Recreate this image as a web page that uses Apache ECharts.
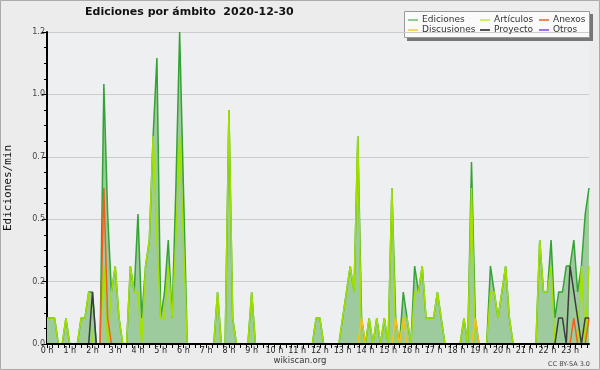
<!DOCTYPE html>
<html><head><meta charset="utf-8">
<script src="https://cdn.jsdelivr.net/npm/echarts@6/dist/echarts.min.js"></script>
<style>html,body{margin:0;padding:0;background:#ececec}#c{width:600px;height:370px}</style>
</head><body><div id="c"></div>
<script>
// 10-minute slots, 6 per hour, values in edits/min
const hourLabels = ['0 h','1 h','2 h','3 h','4 h','5 h','6 h','7 h','8 h','9 h','10 h','11 h','12 h','13 h','14 h','15 h','16 h','17 h','18 h','19 h','20 h','21 h','22 h','23 h'];
const yTicks = [0, 0.24, 0.48, 0.72, 0.96, 1.2];
const ediciones = [
  .1,.1,.1,0,0,.1,   0,0,0,.1,.1,.2,   .2,0,0,1.0,.5,.2,   .3,.1,0,0,.3,.2,
  .5,.1,.3,.4,.8,1.1, .1,.2,.4,.1,.6,1.2, .6,0,0,0,0,0,  0,0,0,.2,0,0,
  .9,.1,0,0,0,0,     .2,0,0,0,0,0,     0,0,0,0,0,0,      0,0,0,0,0,.1,
  .1,0,0,0,0,0,      .1,.2,.3,.2,.8,.1, 0,.1,0,.1,0,.1,   0,.6,.1,0,.2,.1,
  0,.3,.2,.3,.1,.1,  .1,.2,.1,0,0,0,   0,0,.1,0,.7,.1,   0,0,0,.3,.2,.1,
  .2,.3,.1,0,0,0,    0,0,0,0,.4,.2,    .2,.4,.1,.2,.2,.3, .3,.4,.2,.3,.5,.6
];
const articulos = [
  .1,.1,.1,0,0,.1,   0,0,0,.1,.1,.2,   0,0,0,.3,0,.2,    .3,.1,0,0,.3,.2,
  .2,0,.3,.4,.8,.4,  .1,.1,.3,.1,.4,.8, .4,0,0,0,0,0,    0,0,0,.2,0,0,
  .9,.1,0,0,0,0,     .2,0,0,0,0,0,     0,0,0,0,0,0,      0,0,0,0,0,.1,
  .1,0,0,0,0,0,      .1,.2,.3,.2,.8,0, 0,.1,0,.1,0,.1,   0,.6,0,0,.1,.1,
  0,.2,.2,.3,.1,.1,  .1,.2,.1,0,0,0,   0,0,.1,0,.6,0,    0,0,0,.2,.2,.1,
  .2,.3,.1,0,0,0,    0,0,0,0,.4,.2,    .2,.3,0,0,0,0,    0,0,0,.3,0,.3
];
const anexos = [
  0,0,0,0,0,0, 0,0,0,0,0,0, 0,0,0,.6,.1,0, 0,0,0,0,0,0,
  0,0,0,0,0,0, 0,0,0,0,0,0, 0,0,0,0,0,0, 0,0,0,0,0,0,
  0,0,0,0,0,0, 0,0,0,0,0,0, 0,0,0,0,0,0, 0,0,0,0,0,0,
  0,0,0,0,0,0, 0,0,0,0,0,0, 0,0,0,0,0,0, 0,0,0,0,0,0,
  0,0,0,0,0,0, 0,0,0,0,0,0, 0,0,0,0,0,0, 0,0,0,0,0,0,
  0,0,0,0,0,0, 0,0,0,0,0,0, 0,0,0,0,0,0, 0,.1,0,0,0,.1
];
const discusiones = [
  0,0,0,0,0,0, 0,0,0,0,0,0, 0,0,0,0,0,0, 0,0,0,0,0,0,
  0,0,0,0,0,0, 0,0,0,0,0,0, 0,0,0,0,0,0, 0,0,0,0,0,0,
  0,0,0,0,0,0, 0,0,0,0,0,0, 0,0,0,0,0,0, 0,0,0,0,0,0,
  0,0,0,0,0,0, 0,0,0,0,0,.1, 0,0,0,0,0,0, 0,0,.1,0,.1,0,
  0,0,0,0,0,0, 0,0,0,0,0,0, 0,0,0,0,0,.1, 0,0,0,0,0,0,
  0,0,0,0,0,0, 0,0,0,0,0,0, 0,0,0,0,0,0, 0,0,0,0,0,0
];
const proyecto = [
  0,0,0,0,0,0, 0,0,0,0,0,0, .2,0,0,0,0,0, 0,0,0,0,0,0,
  0,0,0,0,0,0, 0,0,0,0,0,0, 0,0,0,0,0,0, 0,0,0,0,0,0,
  0,0,0,0,0,0, 0,0,0,0,0,0, 0,0,0,0,0,0, 0,0,0,0,0,0,
  0,0,0,0,0,0, 0,0,0,0,0,0, 0,0,0,0,0,0, 0,0,0,0,0,0,
  0,0,0,0,0,0, 0,0,0,0,0,0, 0,0,0,0,0,0, 0,0,0,0,0,0,
  0,0,0,0,0,0, 0,0,0,0,0,0, 0,0,0,.1,.1,0, .3,.2,.1,0,.1,.1
];
const otros = new Array(144).fill(0);

const lineColors = {Ediciones:'#34a234', 'Artículos':'#a2e000', Anexos:'#f0601a', Discusiones:'#f2c21e', Proyecto:'#3c3c3c', Otros:'#8a3cf0'};
const legendColors = {Ediciones:'#8fd08f', 'Artículos':'#cdee66', Anexos:'#ee8a5a', Discusiones:'#f8d660', Proyecto:'#555555', Otros:'#a46cf2'};

const toPts = arr => arr.map((v, i) => [i, v]);
const F = 'DejaVu Sans';

function mkSeries(name, arr, extra) {
  return Object.assign({
    name, type: 'line', data: toPts(arr), showSymbol: false, symbol: 'none',
    lineStyle: { color: lineColors[name], width: 1.5 }, itemStyle: { color: lineColors[name] },
    animation: false, z: 2
  }, extra || {});
}

function legendCol(items, left) {
  return {
    left, top: 15, orient: 'vertical', padding: 0, itemGap: 0, itemWidth: 10, itemHeight: 2,
    icon: 'rect', selectedMode: false,
    textStyle: { fontFamily: F, fontSize: 9, color: '#333', lineHeight: 10, padding: [0,0,0,-1] },
    data: items.map(n => ({ name: n, itemStyle: { color: legendColors[n] } }))
  };
}

const chart = echarts.init(document.getElementById('c'), null, { renderer: 'canvas' });
chart.setOption({
  backgroundColor: '#ececec',
  animation: false,
  title: {
    text: 'Ediciones por ámbito  2020-12-30', left: 85, top: 7, padding: 0,
    textStyle: { fontFamily: F, fontWeight: 'bold', fontSize: 11, color: '#111' }
  },
  graphic: [
    { type: 'rect', shape: { x: 0.5, y: 0.5, width: 599, height: 369 }, style: { fill: 'none', stroke: '#aaaaaa', lineWidth: 1 }, z: 0 },
    { type: 'rect', shape: { x: 407, y: 14, width: 186, height: 27 }, style: { fill: '#777777' }, z: 0 },
    { type: 'rect', shape: { x: 404.5, y: 11.5, width: 185, height: 26 }, style: { fill: '#fafafa', stroke: '#999999', lineWidth: 1 }, z: 1 },
    { type: 'text', x: 300, y: 361, style: { text: 'wikiscan.org', fontFamily: F, fontSize: 8.5, fill: '#333', align: 'center', verticalAlign: 'middle' } },
    { type: 'text', x: 590, y: 364, style: { text: 'CC BY-SA 3.0', fontFamily: F, fontSize: 6.5, fill: '#444', align: 'right', verticalAlign: 'middle' } }
  ],
  legend: [
    legendCol(['Ediciones', 'Discusiones'], 408),
    legendCol(['Artículos', 'Proyecto'], 480),
    legendCol(['Anexos', 'Otros'], 539)
  ],
  grid: { left: 47, right: 11, top: 32, bottom: 26, show: true, backgroundColor: '#eeeff1', borderWidth: 0, outerBoundsMode: 'none', containLabel: false },
  xAxis: {
    type: 'value', min: 0, max: 143, interval: 1.5, z: 10,
    axisLine: { show: true, lineStyle: { color: '#000', width: 2 } },
    axisTick: { show: true, length: 4, lineStyle: { color: '#000', width: 1 } },
    splitLine: { show: false },
    axisLabel: {
      fontFamily: F, fontSize: 8, color: '#222', margin: 3, showMaxLabel: false,
      formatter: v => (Math.abs(v % 6) < 1e-6 && v / 6 < hourLabels.length) ? hourLabels[Math.round(v / 6)] : ''
    }
  },
  yAxis: {
    type: 'value', min: yTicks[0], max: yTicks[yTicks.length - 1], interval: yTicks[1] - yTicks[0], z: 1,
    name: 'Ediciones/min', nameLocation: 'middle', nameRotate: 90, nameGap: 33,
    nameTextStyle: { fontFamily: 'DejaVu Sans Mono', fontSize: 11, color: '#111' },
    axisLine: { show: true, lineStyle: { color: '#000', width: 2 } },
    axisTick: { show: true, length: 5, lineStyle: { color: '#000' } },
    minorTick: { show: true, splitNumber: 4, length: 3, lineStyle: { color: '#000' } },
    splitLine: { show: true, lineStyle: { color: '#cccccc', width: 1 } },
    axisLabel: { fontFamily: F, fontSize: 8, color: '#444', margin: 2, formatter: v => v.toFixed(1) }
  },
  series: [
    mkSeries('Ediciones', ediciones, { areaStyle: { color: '#9ecb9e', opacity: 1 } }),
    mkSeries('Artículos', articulos),
    mkSeries('Discusiones', discusiones),
    mkSeries('Anexos', anexos),
    mkSeries('Proyecto', proyecto),
    mkSeries('Otros', otros)
  ]
});
</script>
</body></html>
